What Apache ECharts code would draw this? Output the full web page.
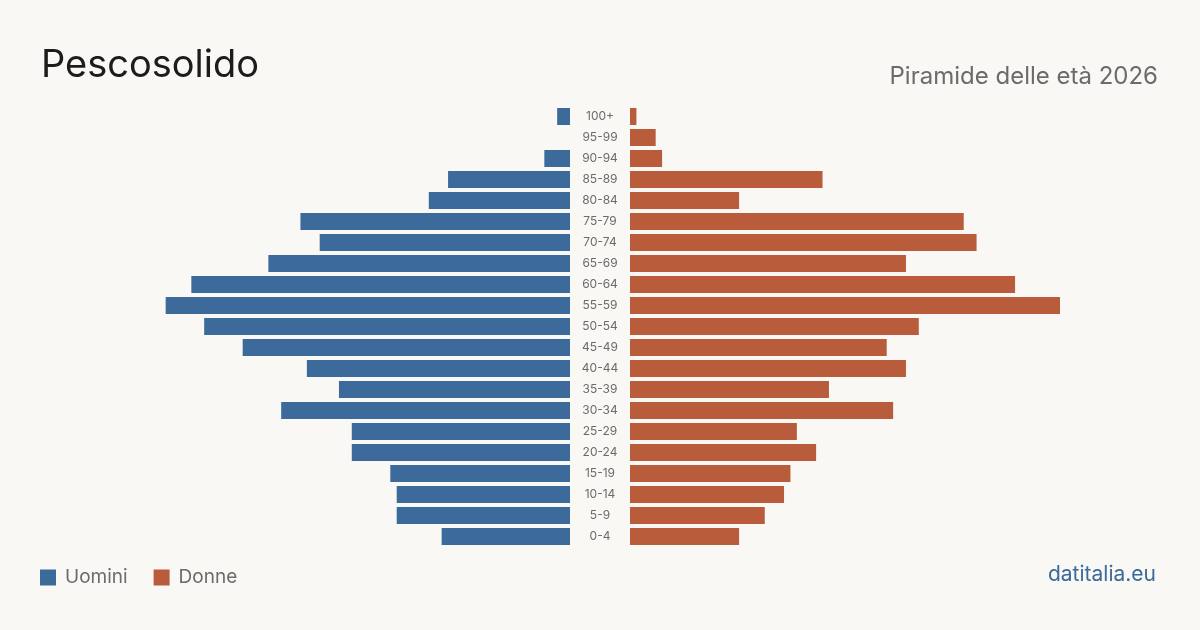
<!DOCTYPE html>
<html>
<head>
<meta charset="utf-8">
<script src="https://cdn.jsdelivr.net/npm/echarts@6/dist/echarts.min.js"></script>
<style>
  html, body { margin: 0; padding: 0; background: #f9f8f4; }
  #chart { width: 1200px; height: 630px; }
</style>
</head>
<body>
<div id="chart"></div>
<script>
// fasce d'età dal basso verso l'alto
const ageGroups = ['0-4', '5-9', '10-14', '15-19', '20-24', '25-29', '30-34', '35-39', '40-44', '45-49',
  '50-54', '55-59', '60-64', '65-69', '70-74', '75-79', '80-84', '85-89', '90-94', '95-99', '100+']
const uomini = [20, 27, 27, 28, 34, 34, 45, 36, 41, 51, 57, 63, 59, 47, 39, 42, 22, 19, 4, 0, 2]
const donne = [17, 21, 24, 25, 29, 26, 41, 31, 43, 40, 45, 67, 60, 43, 54, 52, 17, 30, 5, 4, 1]

const BLUE = '#3b6a9b'
const RED = '#b85c3c'
const FONT = 'Inter, "Noto Sans", sans-serif'

const maxVal = Math.max(...uomini, ...donne)

const chart = echarts.init(document.getElementById('chart'))

chart.setOption({
  backgroundColor: '#f9f8f4',
  animation: false,
  title: [
    {
      text: 'Pescosolido',
      left: 36,
      top: 42,
      textStyle: { fontFamily: FONT, fontSize: 38, fontWeight: 400, color: '#1c1c1c' },
    },
    {
      text: 'Piramide delle età 2026',
      right: 37,
      top: 60,
      textStyle: { fontFamily: FONT, fontSize: 24, fontWeight: 400, color: '#6b6b6b' },
    },
  ],
  legend: {
    left: 35,
    top: 563,
    icon: 'rect',
    itemWidth: 16,
    itemHeight: 16,
    itemGap: 26,
    textStyle: { fontFamily: FONT, fontSize: 19, color: '#6b6b6b', padding: [0, 0, 0, 4] },
    data: ['Uomini', 'Donne'],
  },
  graphic: [
    {
      type: 'text',
      right: 44,
      top: 564,
      style: { text: 'datitalia.eu', fontFamily: FONT, fontSize: 21, fill: BLUE },
    },
  ],
  grid: [
    { left: 140, width: 430, top: 106, height: 441 },
    { left: 630, width: 430, top: 106, height: 441 },
  ],
  xAxis: [
    { gridIndex: 0, type: 'value', inverse: true, min: 0, max: maxVal, show: false },
    { gridIndex: 1, type: 'value', min: 0, max: maxVal, show: false },
  ],
  yAxis: [
    {
      gridIndex: 0, type: 'category', data: ageGroups,
      axisLine: { show: false }, axisTick: { show: false }, axisLabel: { show: false },
    },
    {
      gridIndex: 1, type: 'category', data: ageGroups, position: 'left',
      axisLine: { show: false }, axisTick: { show: false },
      axisLabel: {
        margin: 30, align: 'center', padding: [2, 0, 0, 0],
        fontFamily: FONT, fontSize: 12, color: '#6b6b6b',
      },
    },
  ],
  series: [
    {
      name: 'Uomini', type: 'bar', xAxisIndex: 0, yAxisIndex: 0,
      data: uomini, barWidth: 17, itemStyle: { color: BLUE },
    },
    {
      name: 'Donne', type: 'bar', xAxisIndex: 1, yAxisIndex: 1,
      data: donne, barWidth: 17, itemStyle: { color: RED },
    },
  ],
})
</script>
</body>
</html>
